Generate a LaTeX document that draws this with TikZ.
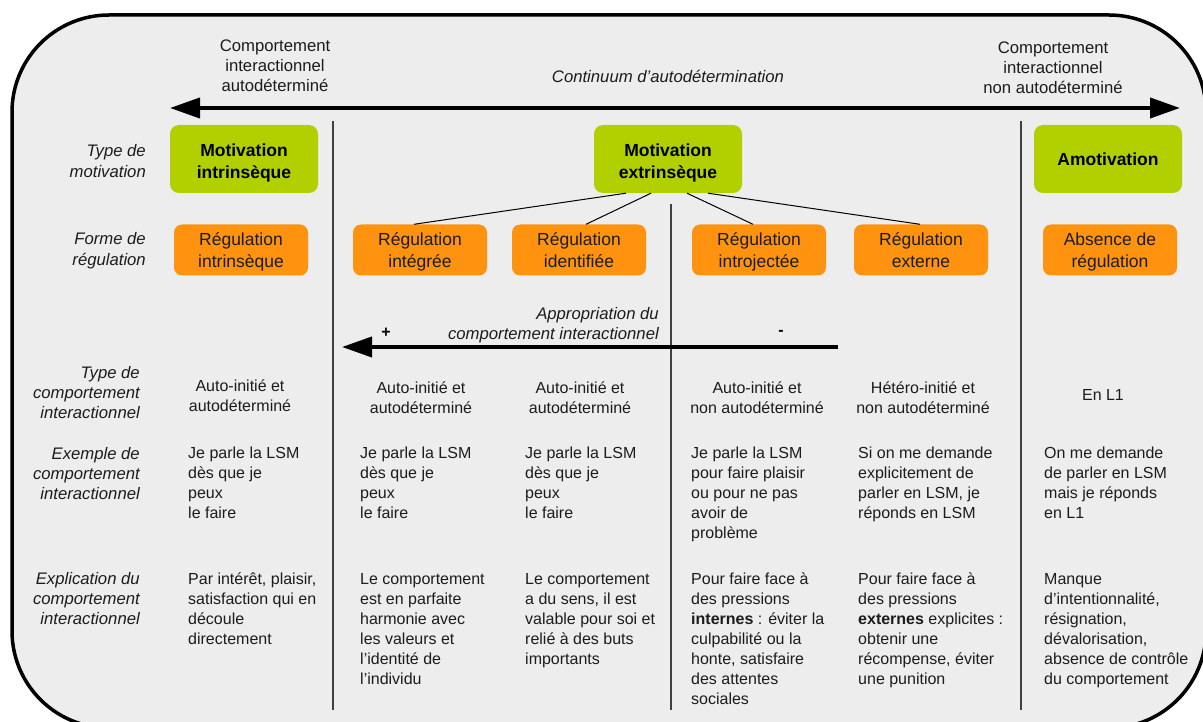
\documentclass[tikz,border=0pt]{standalone}
\usepackage{fontspec}
\setmainfont{Liberation Sans}
\usetikzlibrary{arrows.meta}
\definecolor{bgc}{RGB}{237,237,237}
\definecolor{grn}{RGB}{178,208,0}
\definecolor{org}{RGB}{255,147,15}
\definecolor{txt}{RGB}{28,28,28}
\begin{document}
\begin{tikzpicture}[x=1pt,y=-1pt,
  frame/.style={draw=black, line width=3.5pt, fill=bgc, rounded corners=97pt},
  lbl/.style={font=\fontsize{16.7}{20.3}\selectfont\itshape, align=right, anchor=base east, inner sep=0pt, text=txt},
  toplbl/.style={font=\fontsize{16.7}{19.8}\selectfont, align=center, anchor=base, inner sep=0pt, text=txt},
  cell/.style={font=\fontsize{16}{20}\selectfont, align=left, anchor=base west, inner sep=0pt, text=txt},
  ccell/.style={font=\fontsize{16}{20.5}\selectfont, align=center, anchor=base, inner sep=0pt, text=txt},
  motbox/.style={fill=grn, rounded corners=9pt, minimum width=148pt, minimum height=68pt, font=\fontsize{17.5}{22}\selectfont\bfseries, align=center, inner sep=0pt, text=black},
  regbox/.style={fill=org, rounded corners=8pt, minimum width=134pt, minimum height=51pt, font=\fontsize{17.5}{22}\selectfont, align=center, inner sep=0pt, text=txt},
  sepline/.style={draw=black!75, line width=1.2pt},
  branch/.style={draw=black, line width=1pt},
  bigarrow/.style={draw=black, line width=4pt},
  sign/.style={font=\fontsize{16}{20}\selectfont\bfseries, inner sep=0pt, text=black}
]
\useasboundingbox (0,0) rectangle (1203,722);
\clip (0,0) rectangle (1203,722);
\draw[frame] (12,15) rectangle (1206,728);

% top continuum (multi-line nodes are placed by the baseline of their last line)
\coordinate (cl) at (170,108);
\coordinate (cr) at (1180,108);
\draw[bigarrow, {Triangle[length=30pt,width=20pt]}-{Triangle[length=30pt,width=20pt]}] (cl) -- (cr);
\node[toplbl] (tleft) at (275,91.6) {Comportement\\interactionnel\\autodéterminé};
\node[toplbl] (tright) at (1053,93.6) {Comportement\\interactionnel\\non autodéterminé};
\node[toplbl, font=\fontsize{16.7}{20}\selectfont\itshape] (cont) at (668,83) {Continuum d’autodétermination};

% separators
\draw[sepline] (333,121) -- (333,710);
\draw[sepline] (671,204) -- (671,710);
\draw[sepline] (1021,121) -- (1021,710);

% row labels
\node[lbl] (ltm) at (146,177.3) {Type de\\motivation};
\node[lbl] (lfr) at (146,265.3) {Forme de\\régulation};
\node[lbl] (ltc) at (140,418.6) {Type de\\comportement\\interactionnel};
\node[lbl] (lex) at (140,499.6) {Exemple de\\comportement\\interactionnel};
\node[lbl] (lxp) at (140,624.6) {Explication du\\comportement\\interactionnel};

% motivation boxes
\node[motbox] (mint) at (244,159) {\rule{0pt}{21pt}Motivation\\intrinsèque\rule[-4pt]{0pt}{4pt}};
\node[motbox] (mext) at (668,159) {\rule{0pt}{21pt}Motivation\\extrinsèque\rule[-4pt]{0pt}{4pt}};
\node[motbox] (amot) at (1108,159) {Amotivation};

% regulation boxes
\node[regbox] (rintr) at (241,250) {\rule{0pt}{18.5pt}Régulation\\intrinsèque\rule[-4.5pt]{0pt}{4.5pt}};
\node[regbox] (rint) at (420,250) {\rule{0pt}{18.5pt}Régulation\\intégrée\rule[-4.5pt]{0pt}{4.5pt}};
\node[regbox] (rid) at (579,250) {\rule{0pt}{18.5pt}Régulation\\identifiée\rule[-4.5pt]{0pt}{4.5pt}};
\node[regbox] (rij) at (759,250) {\rule{0pt}{18.5pt}Régulation\\introjectée\rule[-4.5pt]{0pt}{4.5pt}};
\node[regbox] (rex) at (921,250) {\rule{0pt}{18.5pt}Régulation\\externe\rule[-4.5pt]{0pt}{4.5pt}};
\node[regbox] (rabs) at (1110,250) {\rule{0pt}{18.5pt}Absence de\\régulation\rule[-4.5pt]{0pt}{4.5pt}};

% branches
\draw[branch] ([xshift=-42pt]mext.south) -- ([xshift=-6pt]rint.north);
\draw[branch] ([xshift=-17pt]mext.south) -- ([xshift=7pt]rid.north);
\draw[branch] ([xshift=19pt]mext.south) -- ([xshift=-6pt]rij.north);
\draw[branch] ([xshift=40pt]mext.south) -- ([xshift=-1pt]rex.north);

% appropriation arrow
\coordinate (as) at (838,347);
\coordinate (ae) at (342,347);
\draw[bigarrow, -{Triangle[length=30pt,width=20pt]}] (as) -- (ae);
\node[lbl] (appr) at (659,339.3) {Appropriation du\\comportement interactionnel};
\node[sign] (plus) at (386,333) {+};
\node[sign] (minus) at (781,333) {-};

% type de comportement
\node[ccell] (t1) at (240,411.5) {Auto-initié et\\autodéterminé};
\node[ccell] (t2) at (421,413.5) {Auto-initié et\\autodéterminé};
\node[ccell] (t3) at (580,413.5) {Auto-initié et\\autodéterminé};
\node[ccell] (t4) at (757,413.5) {Auto-initié et\\non autodéterminé};
\node[ccell] (t5) at (923,413.5) {Hétéro-initié et\\non autodéterminé};
\node[ccell] (t6) at (1103,400) {En L1};

% exemples
\node[cell] (e1) at (188,518) {Je parle la LSM\\dès que je\\peux\\le faire};
\node[cell] (e2) at (360,518) {Je parle la LSM\\dès que je\\peux\\le faire};
\node[cell] (e3) at (525,518) {Je parle la LSM\\dès que je\\peux\\le faire};
\node[cell] (e4) at (691,538) {Je parle la LSM\\pour faire plaisir\\ou pour ne pas\\avoir de\\problème};
\node[cell] (e5) at (858,518) {Si on me demande\\explicitement de\\parler en LSM, je\\réponds en LSM};
\node[cell] (e6) at (1044,518) {On me demande\\de parler en LSM\\mais je réponds\\en L1};

% explications
\node[cell] (x1) at (188,644) {Par intérêt, plaisir,\\satisfaction qui en\\découle\\directement};
\node[cell] (x2) at (360,684) {Le comportement\\est en parfaite\\harmonie avec\\les valeurs et\\l’identité de\\l’individu};
\node[cell] (x3) at (525,664) {Le comportement\\a du sens, il est\\valable pour soi et\\relié à des buts\\importants};
\node[cell] (x4) at (691,704) {Pour faire face à\\des pressions\\\textbf{internes} : éviter la\\culpabilité ou la\\honte, satisfaire\\des attentes\\sociales};
\node[cell] (x5) at (858,684) {Pour faire face à\\des pressions\\\textbf{externes} explicites :\\obtenir une\\récompense, éviter\\une punition};
\node[cell] (x6) at (1044,684) {Manque\\d’intentionnalité,\\résignation,\\dévalorisation,\\absence de contrôle\\du comportement};
\end{tikzpicture}
\end{document}
